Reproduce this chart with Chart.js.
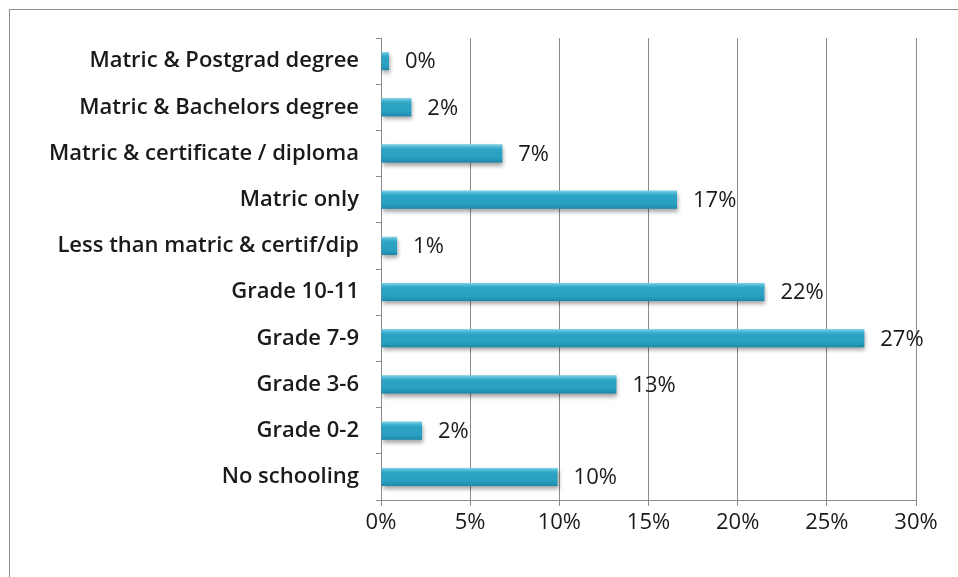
<!DOCTYPE html>
<html>
<head>
<meta charset="utf-8">
<script src="https://cdn.jsdelivr.net/npm/chart.js@4.4.1/dist/chart.umd.min.js"></script>
<style>
  html, body { margin: 0; padding: 0; background: #fff; }
  #wrap { position: relative; width: 958px; height: 577px; overflow: hidden; }
  #frame { position: absolute; left: 9px; top: 9px; width: 960px; height: 600px; border: 1px solid #8c8c8c; box-sizing: border-box; }
  #myChart { position: absolute; left: 0; top: 0; }
</style>
</head>
<body>
<div id="wrap">
  <div id="frame"></div>
  <canvas id="myChart" width="958" height="577"></canvas>
</div>
<script>
"use strict";
// education levels, top to bottom
const categories = [
    "Matric & Postgrad degree",
    "Matric & Bachelors degree",
    "Matric & certificate / diploma",
    "Matric only",
    "Less than matric & certif/dip",
    "Grade 10-11",
    "Grade 7-9",
    "Grade 3-6",
    "Grade 0-2",
    "No schooling"
];
// share of respondents (%)
const shares = [0.45, 1.7, 6.8, 16.6, 0.9, 21.5, 27.1, 13.2, 2.3, 9.9];
const xTicks = [0, 5, 10, 15, 20, 25, 30];

const fontFamily = "'Open Sans', sans-serif";
const numFont = { family: fontFamily, size: 22 };
const catFont = { family: fontFamily, size: 22, weight: "600" };

// soft shadow under the bars
const barShadow = {
    id: "barShadow",
    beforeDatasetsDraw(chart) {
        const ctx = chart.ctx;
        ctx.save();
        ctx.shadowColor = "rgba(0,0,0,0.35)";
        ctx.shadowBlur = 4;
        ctx.shadowOffsetY = 3;
        ctx.shadowOffsetX = 1;
    },
    afterDatasetsDraw(chart) {
        chart.ctx.restore();
    }
};

// cylinder-like shading and the value labels
const barShade = {
    id: "barShade",
    afterDatasetsDraw(chart) {
        const ctx = chart.ctx;
        const meta = chart.getDatasetMeta(0);
        ctx.save();
        meta.data.forEach(function (bar, i) {
            const top = bar.y - bar.height / 2;
            const left = Math.min(bar.base, bar.x);
            const w = Math.abs(bar.x - bar.base);
            let g = ctx.createLinearGradient(0, top, 0, top + bar.height);
            g.addColorStop(0, "rgba(150,220,238,0.9)");
            g.addColorStop(0.25, "rgba(60,178,210,0.3)");
            g.addColorStop(0.6, "rgba(30,150,185,0)");
            g.addColorStop(1, "rgba(10,100,130,0.45)");
            ctx.fillStyle = g;
            ctx.fillRect(left, top, w, bar.height);

            ctx.fillStyle = "#1a1a1a";
            ctx.font = numFont.size + "px " + fontFamily;
            ctx.textAlign = "left";
            ctx.textBaseline = "middle";
            ctx.fillText(Math.round(shares[i]) + "%", bar.x + 16, bar.y + 1);
        });
        ctx.restore();
    }
};

const ctx = document.getElementById("myChart").getContext("2d");
const myChart = new Chart(ctx, {
    type: "bar",
    data: {
        labels: categories,
        datasets: [{
            data: shares,
            backgroundColor: "#2ba2c3",
            borderWidth: 0,
            barPercentage: 0.78,
            categoryPercentage: 0.5
        }]
    },
    options: {
        indexAxis: "y",
        responsive: false,
        animation: false,
        layout: { padding: { top: 38, right: 42, bottom: 0, left: 0 } },
        plugins: {
            legend: { display: false },
            tooltip: { enabled: false }
        },
        scales: {
            x: {
                min: 0,
                max: 30,
                afterBuildTicks: function (s) {
                    s.ticks = xTicks.map(function (v) { return { value: v }; });
                },
                afterFit: function (s) { s.height = 77; },
                ticks: {
                    color: "#1a1a1a",
                    font: numFont,
                    padding: 4,
                    callback: function (v) { return v + "%"; }
                },
                grid: {
                    color: "#8a8a8a",
                    lineWidth: 1,
                    tickLength: 6,
                    drawOnChartArea: true
                },
                border: { color: "#8a8a8a", width: 1 }
            },
            y: {
                afterFit: function (s) { s.width = 381; },
                ticks: {
                    color: "#1a1a1a",
                    font: catFont,
                    padding: 17
                },
                grid: {
                    offset: true,
                    drawOnChartArea: false,
                    color: "#8a8a8a",
                    tickLength: 5
                },
                border: { color: "#8a8a8a", width: 1 }
            }
        }
    },
    plugins: [barShadow, barShade]
});
</script>
</body>
</html>
